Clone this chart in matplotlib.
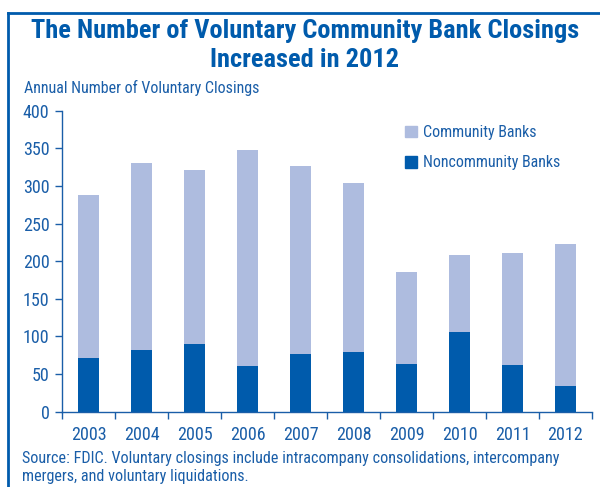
import numpy as np
import matplotlib
matplotlib.use("Agg")
import matplotlib.pyplot as plt
from matplotlib.lines import Line2D
from matplotlib.patches import Patch
from matplotlib import font_manager as fm

# Data
years = ["2003", "2004", "2005", "2006", "2007", "2008", "2009", "2010", "2011", "2012"]
totals = [288, 331, 321, 348, 327, 304, 186, 208, 211, 223]
noncommunity = [71, 82, 90, 61, 77, 79, 63, 106, 62, 34]
community = [t - n for t, n in zip(totals, noncommunity)]

DARK = "#005BAC"
LIGHT = "#AEBCDF"
TEXT = "#1A5EA8"

# pick a condensed sans if one is installed
installed = set(f.name for f in fm.fontManager.ttflist)
wanted = ['Roboto Condensed', 'Archivo Narrow', 'PT Sans Narrow', 'Liberation Sans Narrow',
          'Open Sans Condensed', 'Fira Sans Condensed', 'IBM Plex Sans Condensed']
fams = [f for f in wanted if f in installed]
if fams:
    plt.rcParams['font.family'] = [fams[0], 'DejaVu Sans']
else:
    plt.rcParams['font.family'] = ['DejaVu Sans']
    plt.rcParams['font.stretch'] = 'condensed'

fig = plt.figure(figsize=(6, 4.87), dpi=100)
ax = fig.add_axes([62 / 600, 1 - 411.7 / 487, 530 / 600, 301 / 487])

x = np.arange(len(years))
ax.bar(x, noncommunity, width=0.415, color=DARK, label="Noncommunity Banks")
ax.bar(x, community, width=0.415, bottom=noncommunity, color=LIGHT, label="Community Banks")

ax.set_xlim(-0.5, len(years) - 0.5)
ax.set_ylim(0, 400)
ax.set_yticks(range(0, 401, 50))
ax.set_xticks(x)
ax.set_xticklabels(years)
ax.set_xticks(np.arange(-0.5, len(years)), minor=True)
ax.tick_params(axis='x', which='major', length=0, pad=10, labelsize=13, labelcolor=TEXT)
ax.tick_params(axis='x', which='minor', length=5, color=TEXT, width=1)
ax.tick_params(axis='y', length=5, color=TEXT, width=1, labelsize=13, labelcolor=TEXT, pad=4)
for s in ['top', 'right']:
    ax.spines[s].set_visible(False)
for s in ['left', 'bottom']:
    ax.spines[s].set_color(TEXT)
    ax.spines[s].set_linewidth(1)

handles = [Patch(color=LIGHT), Patch(color=DARK)]
leg = ax.legend(handles, ["Community Banks", "Noncommunity Banks"], loc='upper left',
                bbox_to_anchor=(0.62, 1.0), frameon=False, fontsize=11.5,
                handlelength=0.75, handleheight=0.75, handletextpad=0.4, labelspacing=0.95)
for t in leg.get_texts():
    t.set_color(TEXT)

# Title and notes
fig.text(0.508, 1 - 31 / 487, "The Number of Voluntary Community Bank Closings",
         ha='center', va='center', fontsize=19, fontweight='bold', color=DARK)
fig.text(0.508, 1 - 60 / 487, "Increased in 2012",
         ha='center', va='center', fontsize=19, fontweight='bold', color=DARK)
fig.text(24 / 600, 1 - 88 / 487, "Annual Number of Voluntary Closings",
         ha='left', va='center', fontsize=11.5, color=TEXT)
fig.text(22 / 600, 1 - 458 / 487,
         "Source: FDIC. Voluntary closings include intracompany consolidations, intercompany",
         ha='left', va='center', fontsize=11.6, color=TEXT)
fig.text(22 / 600, 1 - 477 / 487, "mergers, and voluntary liquidations.",
         ha='left', va='center', fontsize=11.6, color=TEXT)

# Frame lines at top and left
fig.add_artist(Line2D([7.5 / 600, 7.5 / 600], [0, 1 - 12.5 / 487], color=DARK, lw=2,
                      transform=fig.transFigure))
fig.add_artist(Line2D([7.5 / 600, 1], [1 - 12.5 / 487, 1 - 12.5 / 487], color=DARK, lw=2,
                      transform=fig.transFigure))

fig.savefig("out.png", dpi=100)
